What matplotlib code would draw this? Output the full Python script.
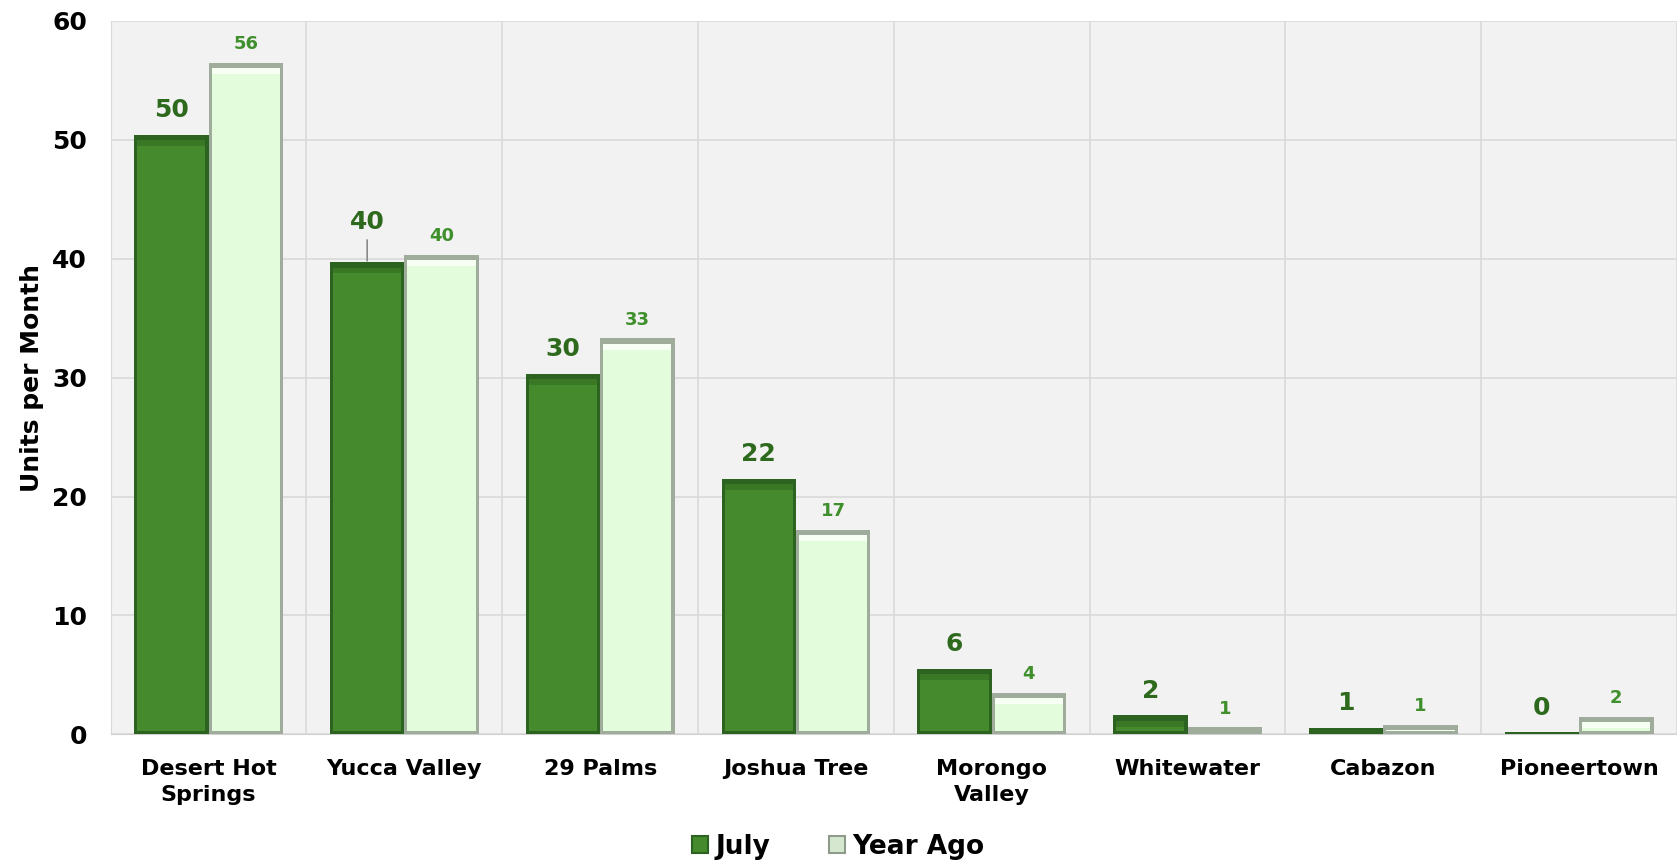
import matplotlib.pyplot as plt
from matplotlib.patches import Patch
import numpy as np

places = ["Desert Hot\nSprings", "Yucca Valley", "29 Palms", "Joshua Tree",
          "Morongo\nValley", "Whitewater", "Cabazon", "Pioneertown"]
july = [50.4, 39.7, 30.3, 21.5, 5.5, 1.6, 0.55, 0.2]
year_ago = [56.45, 40.3, 33.3, 17.2, 3.5, 0.6, 0.8, 1.5]

plt.rcParams['font.family'] = ['DejaVu Sans']
plt.rcParams['font.weight'] = 'bold'

fig = plt.figure(figsize=(16.77, 8.64), dpi=100)
ax = fig.add_axes([0.066, 0.150, 0.934, 0.826])
ax.set_facecolor('#f2f2f2')

x = np.arange(len(places))
w = 0.38
dx = 0.016   # bevel inset (category units)
dy = 0.45    # bevel inset (data units)


def bevel_bars(xs, vals, outer, inner, hilite):
    # dark rim, then the face, then a thin band under the top edge
    ax.bar(xs, vals, w, color=outer, linewidth=0, zorder=3)
    face = [max(v - dy - 0.25, 0) for v in vals]
    ax.bar(xs, face, w - 2 * dx, bottom=0.25, color=inner, linewidth=0, zorder=4)
    band = [min(0.5, f) for f in face]
    ax.bar(xs, band, w - 2 * dx, bottom=[0.25 + f - b for f, b in zip(face, band)],
           color=hilite, linewidth=0, zorder=5)


bevel_bars(x - w / 2, july, '#2c6320', '#458b2d', '#3a7826')
bevel_bars(x + w / 2, year_ago, '#9fab9b', '#e2fcdc', '#f7fff5')

for i, (xi, v) in enumerate(zip(x, july)):
    off = 9
    props = None
    if i == 1:
        off = 20
        props = dict(arrowstyle='-', color='#8a8a8a', lw=1.2, shrinkA=2, shrinkB=1)
    ax.annotate(f"{v:.0f}", (xi - w / 2, v), xytext=(0, off), textcoords='offset points',
                ha='center', va='bottom', fontsize=18, fontweight='bold', color='#2e6a1e',
                arrowprops=props, zorder=6)
for xi, v in zip(x, year_ago):
    ax.annotate(f"{v:.0f}", (xi + w / 2, v), xytext=(0, 7), textcoords='offset points',
                ha='center', va='bottom', fontsize=13, fontweight='bold', color='#3f8f2c',
                zorder=6)

ax.set_xlim(-0.5, len(places) - 0.5)
ax.set_ylim(0, 60)
ax.set_yticks(range(0, 61, 10))
ax.set_xticks(x)
ax.set_xticklabels(places, fontsize=16, fontweight='bold', linespacing=1.35)
ax.set_xticks(np.arange(-0.5, len(places), 1), minor=True)
ax.tick_params(axis='y', labelsize=18, length=0, pad=17)
ax.tick_params(axis='x', which='both', length=0, pad=18)
ax.grid(axis='y', color='#d9d9d9', linewidth=1.2, zorder=0)
ax.grid(axis='x', which='minor', color='#d9d9d9', linewidth=1.2, zorder=0)
ax.grid(axis='x', which='major', visible=False)
for s in ['top', 'right']:
    ax.spines[s].set_visible(False)
ax.spines['left'].set_color('#d9d9d9')
ax.spines['bottom'].set_color('#d0d0d0')
ax.set_ylabel("Units per Month", fontsize=18, fontweight='bold', labelpad=6)

handles = [Patch(facecolor='#458b2d', edgecolor='#2c6320', lw=1.5, label='July'),
           Patch(facecolor='#d5e8cf', edgecolor='#8f9a8b', lw=1.5, label='Year Ago')]
fig.legend(handles=handles, loc='center', bbox_to_anchor=(0.5, 0.02), ncol=2,
           frameon=False, fontsize=19, handlelength=0.6, handleheight=0.6,
           handletextpad=0.3, columnspacing=2.2)

fig.savefig("out.png", dpi=100)
